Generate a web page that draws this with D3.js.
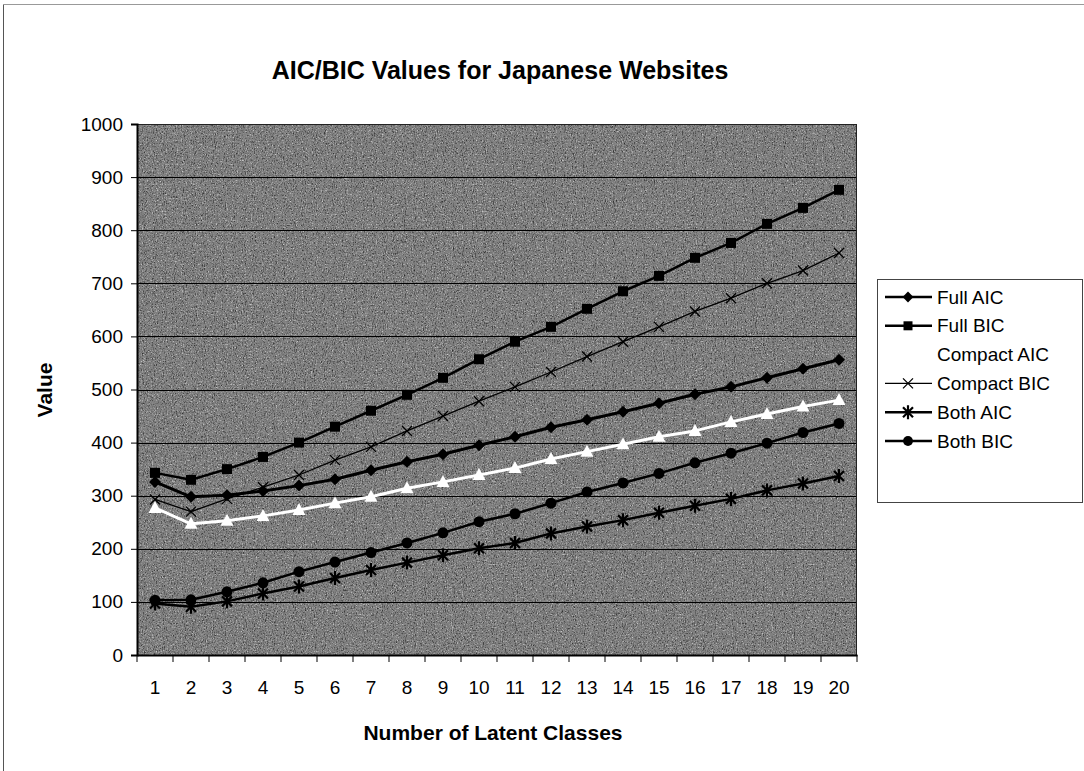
<!DOCTYPE html>
<html><head><meta charset="utf-8">
<script src="https://cdn.jsdelivr.net/npm/d3@7"></script>
<style>body{margin:0;background:#fff}svg{display:block}</style>
</head><body>
<svg id="c" width="1084" height="771"></svg>
<script>
const categories = ["1","2","3","4","5","6","7","8","9","10","11","12","13","14","15","16","17","18","19","20"];
const fullAIC    = [326,298,301,309,319,331,348,364,378,395,411,429,443,458,474,491,505,522,539,556];
const fullBIC    = [343,330,350,373,400,430,460,490,522,557,590,618,652,685,714,748,776,812,842,876];
const compactAIC = [277,247,253,262,273,286,298,314,326,339,352,369,383,397,411,422,439,454,468,480];
const compactBIC = [293,270,294,316,339,367,392,422,450,478,505,533,562,590,618,647,672,700,724,757];
const bothAIC    = [97,91,101,116,129,145,160,174,188,201,211,229,242,254,268,281,294,310,323,337];
const bothBIC    = [103,104,119,136,157,175,193,211,230,251,266,286,307,324,342,362,380,399,419,436];
const yTicks = [0,100,200,300,400,500,600,700,800,900,1000];

const series = [
  {name:"Full AIC",    values:fullAIC,    color:"#000", width:3,   marker:"diamond"},
  {name:"Full BIC",    values:fullBIC,    color:"#000", width:2.5, marker:"square"},
  {name:"Compact AIC", values:compactAIC, color:"#fff", width:3,   marker:"triangle"},
  {name:"Compact BIC", values:compactBIC, color:"#000", width:1.3, marker:"x"},
  {name:"Both AIC",    values:bothAIC,    color:"#000", width:2.5, marker:"asterisk"},
  {name:"Both BIC",    values:bothBIC,    color:"#000", width:2.5, marker:"circle"}
];

const svg = d3.select("#c");
const font = "'Liberation Sans', Arial, sans-serif";
const L = 137, R = 857, T = 124, B = 655;

// outer frame
svg.append("line").attr("x1",3.5).attr("x2",3.5).attr("y1",4).attr("y2",771).attr("stroke","#555").attr("stroke-width",1);
svg.append("line").attr("x1",3).attr("x2",1084).attr("y1",4.5).attr("y2",4.5).attr("stroke","#999").attr("stroke-width",1);

const x = d3.scaleBand().domain(categories).range([L,R]);
const y = d3.scaleLinear().domain([0,1000]).range([B,T]);

// plot background with grainy texture
const defs = svg.append("defs");
const f = defs.append("filter").attr("id","grain").attr("x",0).attr("y",0).attr("width","100%").attr("height","100%");
f.append("feTurbulence").attr("type","fractalNoise").attr("baseFrequency","0.9 0.6").attr("numOctaves",2).attr("seed",3).attr("result","n");
f.append("feColorMatrix").attr("in","n").attr("type","matrix")
  .attr("values","0 0 0 0 0  0 0 0 0 0  0 0 0 0 0  -2.2 0 0 0 1.1");
f.append("feComposite").attr("in2","SourceGraphic").attr("operator","in");
const f2 = defs.append("filter").attr("id","grain2").attr("x",0).attr("y",0).attr("width","100%").attr("height","100%");
f2.append("feTurbulence").attr("type","fractalNoise").attr("baseFrequency","0.8 0.7").attr("numOctaves",2).attr("seed",11).attr("result","n");
f2.append("feColorMatrix").attr("in","n").attr("type","matrix")
  .attr("values","0 0 0 0 1  0 0 0 0 1  0 0 0 0 1  2.2 0 0 0 -1.2");
f2.append("feComposite").attr("in2","SourceGraphic").attr("operator","in");

svg.append("rect").attr("x",L).attr("y",T).attr("width",R-L).attr("height",B-T).attr("fill","#808080");
svg.append("rect").attr("x",L).attr("y",T).attr("width",R-L).attr("height",B-T).attr("fill","#000").attr("filter","url(#grain)").attr("opacity",0.8);
svg.append("rect").attr("x",L).attr("y",T).attr("width",R-L).attr("height",B-T).attr("fill","#fff").attr("filter","url(#grain2)").attr("opacity",0.8);

// gridlines
svg.append("g").selectAll("line").data(yTicks.filter(d=>d>0)).join("line")
  .attr("x1",L).attr("x2",R).attr("y1",d=>Math.round(y(d))+0.5).attr("y2",d=>Math.round(y(d))+0.5)
  .attr("stroke","#000").attr("stroke-width",1);

// plot border
svg.append("rect").attr("x",L+0.5).attr("y",T+0.5).attr("width",R-L-1).attr("height",B-T).attr("fill","none").attr("stroke","#222").attr("stroke-width",1);

// y axis
const yAxis = svg.append("g").attr("transform",`translate(${L},0)`)
  .call(d3.axisLeft(y).tickValues(yTicks).tickFormat(d3.format("d")).tickSize(6).tickPadding(8));
yAxis.select(".domain").attr("stroke","#000").attr("stroke-width",2);
yAxis.selectAll("text").attr("font-family",font).attr("font-size",19).attr("fill","#000");

// x axis
const xAxis = svg.append("g").attr("transform",`translate(0,${B})`)
  .call(d3.axisBottom(x).tickSize(0).tickPadding(26));
xAxis.select(".domain").attr("stroke","#000").attr("stroke-width",2);
xAxis.selectAll("text").attr("font-family",font).attr("font-size",19).attr("fill","#000");
svg.append("g").selectAll("line").data(d3.range(categories.length+1)).join("line")
  .attr("x1",i=>L+i*x.step()).attr("x2",i=>L+i*x.step())
  .attr("y1",B).attr("y2",B+7).attr("stroke","#000").attr("stroke-width",1);

// marker drawing
function drawMarker(g, type, color, s){
  s = s||1;
  if(type==="diamond") g.append("path").attr("d",`M0,${-6*s}L${6*s},0L0,${6*s}L${-6*s},0Z`).attr("fill",color);
  else if(type==="square") g.append("rect").attr("x",-5*s).attr("y",-5*s).attr("width",10*s).attr("height",10*s).attr("fill",color);
  else if(type==="triangle") g.append("path").attr("d",`M0,${-7*s}L${6.5*s},${5*s}L${-6.5*s},${5*s}Z`).attr("fill",color);
  else if(type==="circle") g.append("circle").attr("r",5.5*s).attr("fill",color);
  else if(type==="x") g.append("path").attr("d",`M-5,-5L5,5M-5,5L5,-5`).attr("stroke",color).attr("stroke-width",1.3).attr("fill","none");
  else if(type==="asterisk") g.append("path").attr("d",`M-5,-5L5,5M-5,5L5,-5M0,-7L0,7`).attr("stroke",color).attr("stroke-width",2.2).attr("fill","none");
}

const line = d3.line().x((d,i)=>x(categories[i])+x.bandwidth()/2).y(d=>y(d));
series.forEach(s=>{
  svg.append("path").datum(s.values).attr("d",line).attr("fill","none")
    .attr("stroke",s.color).attr("stroke-width",s.width).attr("stroke-linejoin","round");
  s.values.forEach((v,i)=>{
    const g = svg.append("g").attr("transform",`translate(${x(categories[i])+x.bandwidth()/2},${y(v)})`);
    drawMarker(g,s.marker,s.color);
  });
});

// title
svg.append("text").attr("x",500).attr("y",79).attr("text-anchor","middle")
  .attr("font-family",font).attr("font-weight","bold").attr("font-size",25).text("AIC/BIC Values for Japanese Websites");
svg.append("text").attr("x",493).attr("y",740).attr("text-anchor","middle")
  .attr("font-family",font).attr("font-weight","bold").attr("font-size",21).text("Number of Latent Classes");
svg.append("text").attr("transform","translate(52,390) rotate(-90)").attr("text-anchor","middle")
  .attr("font-family",font).attr("font-weight","bold").attr("font-size",21).text("Value");

// legend
const lx = 877, ly = 279, lw = 205, lh = 223;
svg.append("rect").attr("x",lx+0.5).attr("y",ly+0.5).attr("width",lw).attr("height",lh).attr("fill","#fff").attr("stroke","#444").attr("stroke-width",1);
series.forEach((s,i)=>{
  const cy = ly + 18 + i*28.8;
  svg.append("line").attr("x1",lx+8).attr("x2",lx+55).attr("y1",cy).attr("y2",cy).attr("stroke",s.color).attr("stroke-width",Math.min(s.width,2.5));
  const g = svg.append("g").attr("transform",`translate(${lx+31},${cy})`);
  drawMarker(g,s.marker,s.color,0.9);
  svg.append("text").attr("x",lx+60).attr("y",cy+6.5).attr("font-family",font).attr("font-size",19).text(s.name);
});
</script>
</body></html>
